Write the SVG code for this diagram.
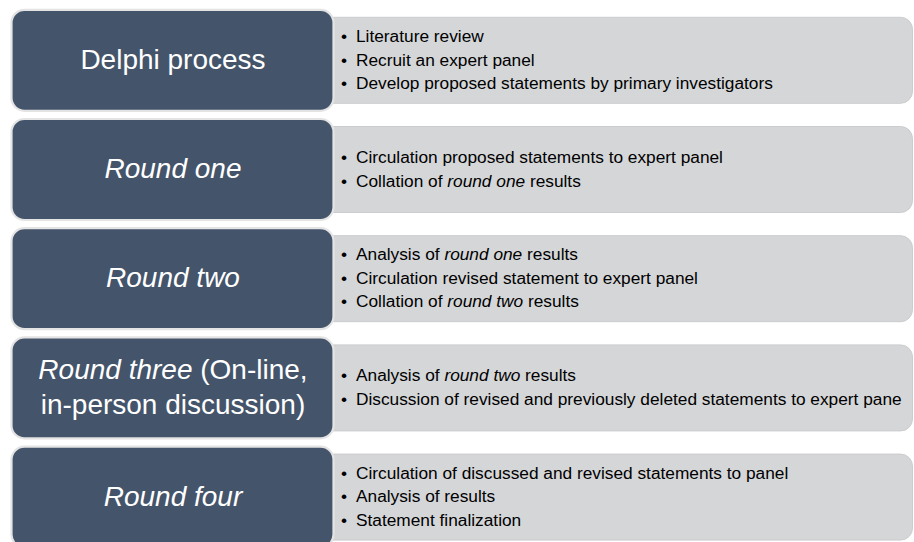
<svg xmlns="http://www.w3.org/2000/svg" width="914" height="542" viewBox="0 0 914 542">
  <style>
    .stage { fill: #44546a; stroke: #e4e4e4; stroke-width: 2.2; }
    .panel { fill: #d5d6d8; stroke: #cbccce; stroke-width: 1; }
    .title { font-family: "Liberation Sans", Arial, sans-serif; font-size: 28px; fill: #ffffff; text-anchor: middle; }
    .item { font-family: "Liberation Sans", Arial, sans-serif; font-size: 17.3px; fill: #000000; }
    .it { font-style: italic; }
  </style>
  <rect width="914" height="542" fill="#ffffff"/>

  <!-- Stage 1 -->
  <g id="delphi-process">
    <rect class="panel" x="300" y="17.3" width="612.5" height="86" rx="12"/>
    <rect class="stage" x="11.5" y="9.8" width="322" height="101" rx="13"/>
    <text class="title" x="173" y="69">Delphi process</text>
    <text class="item"><tspan x="341" y="42">•</tspan><tspan x="356" y="42">Literature review</tspan></text>
    <text class="item"><tspan x="341" y="65.5">•</tspan><tspan x="356" y="65.5">Recruit an expert panel</tspan></text>
    <text class="item"><tspan x="341" y="89">•</tspan><tspan x="356" y="89">Develop proposed statements by primary investigators</tspan></text>
  </g>

  <!-- Stage 2 -->
  <g id="round-one">
    <rect class="panel" x="300" y="126.5" width="612.5" height="86" rx="12"/>
    <rect class="stage" x="11.5" y="119" width="322" height="101" rx="13"/>
    <text class="title it" x="173" y="178.2">Round one</text>
    <text class="item"><tspan x="341" y="163">•</tspan><tspan x="356" y="163">Circulation proposed statements to expert panel</tspan></text>
    <text class="item"><tspan x="341" y="186.5">•</tspan><tspan x="356" y="186.5">Collation of <tspan class="it">round one</tspan> results</tspan></text>
  </g>

  <!-- Stage 3 -->
  <g id="round-two">
    <rect class="panel" x="300" y="235.7" width="612.5" height="86" rx="12"/>
    <rect class="stage" x="11.5" y="228.2" width="322" height="101" rx="13"/>
    <text class="title it" x="173" y="287.4">Round two</text>
    <text class="item"><tspan x="341" y="260.4">•</tspan><tspan x="356" y="260.4">Analysis of <tspan class="it">round one</tspan> results</tspan></text>
    <text class="item"><tspan x="341" y="283.9">•</tspan><tspan x="356" y="283.9">Circulation revised statement to expert panel</tspan></text>
    <text class="item"><tspan x="341" y="307.4">•</tspan><tspan x="356" y="307.4">Collation of <tspan class="it">round two</tspan> results</tspan></text>
  </g>

  <!-- Stage 4 -->
  <g id="round-three">
    <rect class="panel" x="300" y="344.9" width="612.5" height="86" rx="12"/>
    <rect class="stage" x="11.5" y="337.4" width="322" height="101" rx="13"/>
    <text class="title" x="173" y="379.2"><tspan class="it">Round three</tspan> (On-line,</text>
    <text class="title" x="173" y="413.6">in-person discussion)</text>
    <text class="item"><tspan x="341" y="381.2">•</tspan><tspan x="356" y="381.2">Analysis of <tspan class="it">round two</tspan> results</tspan></text>
    <text class="item"><tspan x="341" y="404.7">•</tspan><tspan x="356" y="404.7">Discussion of revised and previously deleted statements to expert pane</tspan></text>
  </g>

  <!-- Stage 5 -->
  <g id="round-four">
    <rect class="panel" x="300" y="454.1" width="612.5" height="86" rx="12"/>
    <rect class="stage" x="11.5" y="446.6" width="322" height="101" rx="13"/>
    <text class="title it" x="173" y="505.8">Round four</text>
    <text class="item"><tspan x="341" y="478.8">•</tspan><tspan x="356" y="478.8">Circulation of discussed and revised statements to panel</tspan></text>
    <text class="item"><tspan x="341" y="502.3">•</tspan><tspan x="356" y="502.3">Analysis of results</tspan></text>
    <text class="item"><tspan x="341" y="525.8">•</tspan><tspan x="356" y="525.8">Statement finalization</tspan></text>
  </g>

  <g id="connectors"/>
</svg>
